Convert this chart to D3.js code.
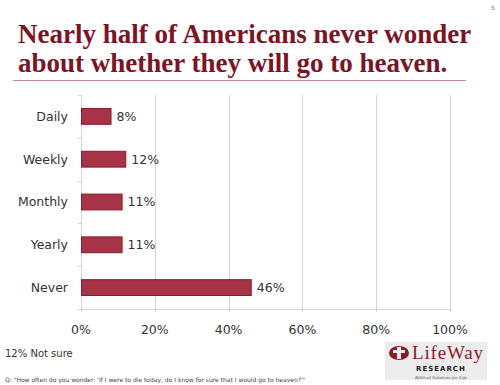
<!DOCTYPE html>
<html>
<head>
<meta charset="utf-8">
<script src="https://cdn.jsdelivr.net/npm/d3@7"></script>
<style>
body{margin:0;background:#fff;}
</style>
</head>
<body>
<svg id="chart" width="500" height="385"></svg>
<script>
const categories = ["Daily","Weekly","Monthly","Yearly","Never"]
const values = [8,12,11,11,46]
const xTicks = [0,20,40,60,80,100]

const svg = d3.select("#chart")
const margin = {top: 95, left: 81, right: 50, bottom: 76}
const width = 500-margin.left-margin.right,
      height = 385-margin.top-margin.bottom

// title
svg.append("text").attr("x",491).attr("y",10).attr("font-size",6)
  .attr("fill","#777").attr("font-family","DejaVu Sans").text("5")
const title = svg.append("text").attr("font-family","Liberation Serif")
  .attr("font-weight","bold").attr("font-size",27).attr("fill","#7d1324")
title.append("tspan").attr("x",18).attr("y",43).text("Nearly half of Americans never wonder")
title.append("tspan").attr("x",18).attr("y",72).text("about whether they will go to heaven.")
svg.append("line").attr("x1",13).attr("x2",466).attr("y1",80.5).attr("y2",80.5)
  .attr("stroke","#c48a90").attr("stroke-width",1)

const x = d3.scaleLinear().domain([0,100]).range([0,width])
const y = d3.scaleBand().domain(categories).range([0,height]).paddingInner(0.63).paddingOuter(0.315)

const g = svg.append("g").attr("transform","translate("+margin.left+","+margin.top+")")

// gridlines
g.selectAll(".grid").data(xTicks).enter().append("line")
  .attr("x1",d=>Math.round(x(d))+0.5).attr("x2",d=>Math.round(x(d))+0.5)
  .attr("y1",0).attr("y2",height+3)
  .attr("stroke","#d4d4d4")

// bottom axis line
g.append("line").attr("x1",0).attr("x2",width).attr("y1",height+0.5).attr("y2",height+0.5)
  .attr("stroke","#d4d4d4")

// y ticks
const yStep = height/categories.length
g.selectAll(".ytick").data(d3.range(categories.length+1)).enter().append("line")
  .attr("x1",-3).attr("x2",0).attr("y1",d=>Math.round(d*yStep)+0.5).attr("y2",d=>Math.round(d*yStep)+0.5)
  .attr("stroke","#d4d4d4")

g.selectAll(".bar").data(values).enter().append("rect")
  .attr("x",0.5).attr("y",(d,i)=>y(categories[i]))
  .attr("width",d=>x(d)).attr("height",y.bandwidth())
  .attr("fill","#a63446").attr("stroke","#8c1a2c").attr("stroke-width",1)

g.selectAll(".val").data(values).enter().append("text")
  .attr("x",d=>x(d)+6).attr("y",(d,i)=>y(categories[i])+y.bandwidth()/2)
  .attr("dy","0.35em").attr("font-family","DejaVu Sans").attr("font-size",12.5)
  .attr("fill","#333").text(d=>d+"%")

g.selectAll(".cat").data(categories).enter().append("text")
  .attr("x",-13).attr("y",d=>y(d)+y.bandwidth()/2).attr("dy","0.35em")
  .attr("text-anchor","end").attr("font-family","DejaVu Sans").attr("font-size",12.5)
  .attr("fill","#333").text(d=>d)

g.selectAll(".xl").data(xTicks).enter().append("text")
  .attr("x",d=>x(d)).attr("y",height+25).attr("text-anchor","middle")
  .attr("font-family","DejaVu Sans").attr("font-size",12.5).attr("fill","#333")
  .text(d=>d+"%")

// notes
svg.append("text").attr("x",5).attr("y",357).attr("font-family","DejaVu Sans")
  .attr("font-size",10).attr("fill","#333").text("12% Not sure")
svg.append("text").attr("x",5).attr("y",382).attr("font-family","DejaVu Sans")
  .attr("font-size",6).attr("fill","#444")
  .text("Q: \"How often do you wonder: 'If I were to die today, do I know for sure that I would go to heaven?'\"")

// logo
const logo = svg.append("g")
logo.append("rect").attr("x",385).attr("y",342).attr("width",102).attr("height",38).attr("fill","#ececec")
logo.append("ellipse").attr("cx",399).attr("cy",353).attr("rx",10).attr("ry",7).attr("fill","#8c1a2c")
logo.append("path").attr("d","M397,347 L401,347 L401,350 L405,350 L405,353 L401,353 L401,359 L397,359 L397,353 L393,353 L393,350 L397,350 Z").attr("fill","#ececec")
logo.append("text").attr("x",412).attr("y",359).attr("font-family","Liberation Serif")
  .attr("font-size",19).attr("fill","#8c1a2c").attr("textLength",71).text("LifeWay")
logo.append("text").attr("x",416).attr("y",371).attr("font-family","DejaVu Sans")
  .attr("font-weight","bold").attr("font-size",7).attr("fill","#222").attr("letter-spacing",1).text("RESEARCH")
logo.append("text").attr("x",415).attr("y",378.5).attr("font-family","Liberation Serif")
  .attr("font-style","italic").attr("font-size",5).attr("fill","#555").text("Biblical Solutions for Life")
</script>
</body>
</html>
